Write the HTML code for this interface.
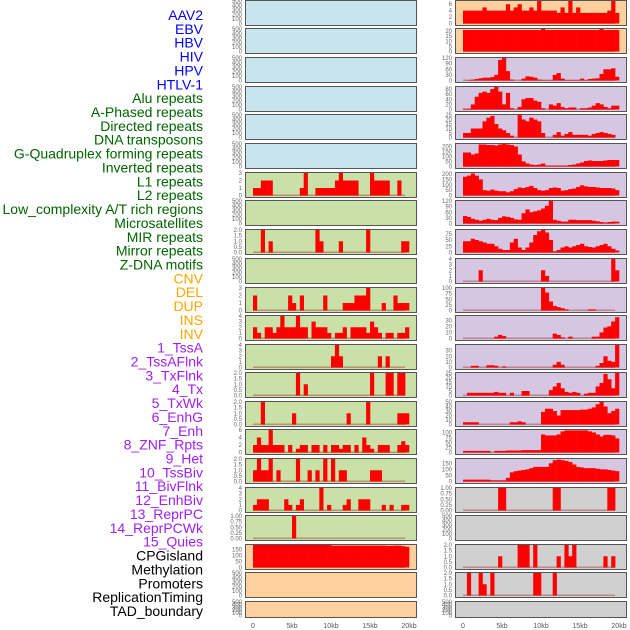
<!DOCTYPE html>
<html><head><meta charset="utf-8"><style>
body{margin:0;background:#fff;width:630px;height:630px;overflow:hidden}
svg{display:block;font-family:"Liberation Sans",sans-serif}
</style></head><body>
<svg id="chart" width="630" height="630"></svg>
<script>
const labels = ["AAV2","EBV","HBV","HIV","HPV","HTLV-1","Alu repeats","A-Phased repeats","Directed repeats","DNA transposons","G-Quadruplex forming repeats","Inverted repeats","L1 repeats","L2 repeats","Low_complexity A/T rich regions","Microsatellites","MIR repeats","Mirror repeats","Z-DNA motifs","CNV","DEL","DUP","INS","INV","1_TssA","2_TssAFlnk","3_TxFlnk","4_Tx","5_TxWk","6_EnhG","7_Enh","8_ZNF_Rpts","9_Het","10_TssBiv","11_BivFlnk","12_EnhBiv","13_ReprPC","14_ReprPCWk","15_Quies","CPGisland","Methylation","Promoters","ReplicationTiming","TAD_boundary"];
const labelColors = ["#0000ff","#0000ff","#0000ff","#0000ff","#0000ff","#0000ff","#006400","#006400","#006400","#006400","#006400","#006400","#006400","#006400","#006400","#006400","#006400","#006400","#006400","#ffa500","#ffa500","#ffa500","#ffa500","#ffa500","#a020f0","#a020f0","#a020f0","#a020f0","#a020f0","#a020f0","#a020f0","#a020f0","#a020f0","#a020f0","#a020f0","#a020f0","#a020f0","#a020f0","#a020f0","#000","#000","#000","#000","#000"];
const xTickKb = [0,5,10,15,20];
const xTickLabels = ["0","5kb","10kb","15kb","20kb"];
const E = new Array(40).fill(0);
const T500 = [0,100,200,300,400,500];
// left column
const L07 = [1,1,2,2,2,0,0,0,0,0,0,0,1,3,0,0,1,1,1,1,1,2,3,2,2,2,2,0,0,0,3,2,2,2,2,0,0,2,0,0];
const L09 = [0,0,2,0,1,0,0,0,0,0,0,0,0,0,0,0,2,1,0,0,0,0,1,0,0,0,0,0,0,2,0,0,0,0,0,0,0,0,1,1];
const L11 = [2,0,0,0,0,0,0,0,0,2,1,0,2,0,0,0,0,0,2,0,0,0,0,1,1,1,2,2,2,3,0,0,0,1,0,0,2,1,1,1];
const L12 = [2,1,0,2,2,1,2,4,2,2,2,4,2,2,0,3,2,2,2,1,0,1,1,2,0,2,2,2,2,1,3,2,1,0,1,1,0,1,1,2];
const L13 = [0,0,0,0,0,0,0,0,0,0,0,0,0,0,0,0,0,0,0,0,2,4,2,0,0,0,0,0,0,0,0,0,2,0,2,0,0,0,0,0];
const L14 = [0,0,0,0,0,0,0,0,0,0,0,2,0,1,0,0,0,0,0,0,0,0,0,0,0,0,0,0,0,0,2,0,0,0,2,2,0,2,2,0];
const L15 = [0,0,2,0,0,0,0,0,0,0,1,0,0,0,0,0,0,0,0,0,0,0,0,0,1,0,0,0,0,2,0,0,0,0,0,0,0,1,1,1];
const L16 = [2,4,2,2,6,2,2,2,0,2,0,1,2,2,0,2,2,0,2,0,2,2,1,2,2,0,2,0,4,2,1,0,2,2,2,0,0,2,3,2];
const L17 = [1,2,1,1,2,0,1,0,0,0,0,2,0,0,1,0,1,0,2,0,2,0,1,1,0,0,0,0,0,0,1,1,1,0,0,0,0,0,0,0];
const L18 = [1,2,2,2,0,0,0,0,2,1,0,1,2,0,0,0,0,4,0,1,0,0,0,1,2,0,0,2,2,2,0,0,0,1,0,1,0,0,1,1];
const L19 = [0,0,0,0,0,0,0,0,0,0,1,0,0,0,0,0,0,0,0,0,0,0,0,0,0,0,0,0,0,0,0,0,0,0,0,0,0,0,0,0];
const L20 = [185,185,185,185,185,185,185,185,185,185,185,185,185,185,185,185,185,185,185,185,180,180,180,180,180,180,180,180,180,180,180,180,180,180,178,178,180,180,175,170];
// right column
const R01 = [4,4,4,4,4,5,4,4,4,4,4,6,4,5,6,4,4,5,4,7,4,4,4,4,3.3,5,3.3,7,3.3,5,3.3,3.3,3.3,3.3,3.3,3.3,3.3,4,7,3.3];
const R02 = [21,21,21,21,21,21,21,21,21,21,21,21,21,21,21,21,21,21,21,21,22,21,21,21,21,21,21,21,21,21,21,21,21,21,21,22,21,21,21,21];
const R03 = [0,2,5,8,12,15,15,18,30,110,120,50,5,0,0,10,22,20,15,5,2,2,2,30,40,10,2,2,2,2,10,2,8,10,12,35,60,60,65,20];
const R04 = [3,3,20,50,65,70,65,80,88,70,20,65,5,0,10,40,45,45,35,30,5,0,20,15,25,10,5,8,8,0,5,5,8,15,25,20,10,5,15,15];
const R05 = [5,5,10,10,10,18,22,24,15,10,8,5,2,0,25,20,18,22,20,18,5,0,0,3,6,2,4,6,3,3,3,3,2,4,5,6,5,4,3,0];
const R06 = [140,140,120,130,220,220,215,215,210,220,225,220,215,200,120,50,30,20,15,20,30,10,10,10,10,10,10,15,20,30,40,55,60,55,55,55,60,65,65,65];
const R07 = [175,185,205,185,150,50,45,55,45,40,40,30,40,60,75,70,80,90,70,50,45,50,70,75,70,45,50,60,65,80,95,85,80,80,75,70,70,70,65,50];
const R08 = [40,35,25,20,15,20,25,20,18,30,38,35,30,22,20,55,75,60,65,70,80,95,120,20,15,10,10,20,20,18,18,18,18,15,12,8,5,8,10,10];
const R09 = [45,45,55,50,45,40,35,35,25,15,10,10,40,55,20,10,20,40,70,85,90,80,50,5,10,20,25,20,25,30,35,25,22,20,25,30,35,25,15,8];
const R10 = [0,0,0,0,2,0,0,0,0,0,0,0,0,0,0,0,0,0,0,0,2,1,0,0,0,0,0,0,0,0,0,0,0,0,0,0,0,0,4,2];
const R11 = [0,0,0,0,0,0,0,0,0,0,0,0,0,0,0,0,0,0,0,0,100,80,40,20,15,10,5,0,0,0,0,0,5,5,0,0,0,0,0,0];
const R12 = [0,0,0,0,0,0,0,0,3,6,4,0,0,0,0,0,0,0,0,0,0,0,0,8,6,2,0,3,0,0,0,0,0,3,3,10,18,20,28,35];
const R13 = [0,0,3,3,0,0,4,4,3,0,2,0,0,0,0,0,0,0,0,0,0,0,0,5,10,5,0,0,0,0,0,0,0,0,3,8,20,12,10,40];
const R14 = [0,3,3,3,3,3,3,3,4,3,3,0,3,0,0,5,5,0,0,0,0,0,6,10,14,8,4,3,4,3,0,2,3,3,10,14,24,18,8,25];
const R15 = [5,5,5,5,0,0,0,0,0,0,0,0,5,5,7,5,0,0,0,0,28,35,35,30,20,32,32,32,32,32,33,33,35,38,45,50,40,25,30,35];
const R16 = [8,8,8,8,8,8,8,0,8,8,8,10,10,10,10,12,12,12,12,12,90,85,85,85,90,105,110,110,110,110,110,110,105,100,90,80,88,88,85,70];
const R17 = [15,15,15,15,15,15,15,10,10,10,10,30,75,85,90,95,100,110,120,120,120,120,150,175,180,175,170,160,140,120,115,110,110,110,105,100,100,95,90,85];
const R18 = [0,0,0,0,0,0,0,0,0,1,1,0,0,0,0,0,0,0,0,0,0,0,0,1,1,0,0,0,0,0,0,0,0,0,0,0,0,1,1,0];
const R20 = [0,0,0,0,0,0,0,0,0,1,0,0,0,0,2,2,2,0,2,0,0,0,0,0,1,0,2,1,2,0,0,0,0,0,0,0,1,0,1,0];
const R21 = [0,2,0,0,2,1,0,2,0,0,0,0,0,0,0,0,0,0,2,2,0,0,0,2,0,0,0,0,0,0,0,0,0,0,0,0,0,0,0,0];

const BLUE="#c8e4ec",GREEN="#c9e1a6",ORANGE="#fed09e",PURPLE="#d5c7e2",GREY="#d0d0d0";
const panels = [
 ["L",0,BLUE,E,500,T500],["L",1,BLUE,E,500,T500],["L",2,BLUE,E,500,T500],["L",3,BLUE,E,500,T500],["L",4,BLUE,E,500,T500],["L",5,BLUE,E,500,T500],
 ["L",6,GREEN,L07,3,[0,1,2,3]],["L",7,GREEN,E,500,T500],["L",8,GREEN,L09,2,[0,0.5,1,1.5,2]],["L",9,GREEN,E,500,T500],
 ["L",10,GREEN,L11,3,[0,1,2,3]],["L",11,GREEN,L12,4,[0,1,2,3,4]],["L",12,GREEN,L13,4,[0,1,2,3,4]],["L",13,GREEN,L14,2,[0,0.5,1,1.5,2]],
 ["L",14,GREEN,L15,2,[0,0.5,1,1.5,2]],["L",15,GREEN,L16,6,[0,2,4,6]],["L",16,GREEN,L17,2,[0,0.5,1,1.5,2]],["L",17,GREEN,L18,4,[0,1,2,3,4]],
 ["L",18,GREEN,L19,1,[0,0.25,0.5,0.75,1]],["L",19,ORANGE,L20,185,[0,50,100,150]],["L",20,ORANGE,E,500,T500],["L",21,ORANGE,E,500,T500],
 ["R",0,ORANGE,R01,7,[0,2,4,6]],["R",1,ORANGE,R02,22,[0,5,10,15,20]],["R",2,PURPLE,R03,120,[0,30,60,90,120]],["R",3,PURPLE,R04,88,[0,20,40,60,80]],
 ["R",4,PURPLE,R05,25,[0,5,10,15,20,25]],["R",5,PURPLE,R06,225,[0,50,100,150,200]],["R",6,PURPLE,R07,210,[0,50,100,150,200]],["R",7,PURPLE,R08,120,[0,30,60,90,120]],
 ["R",8,PURPLE,R09,90,[0,25,50,75]],["R",9,PURPLE,R10,4,[0,1,2,3,4]],["R",10,PURPLE,R11,100,[0,25,50,75,100]],["R",11,PURPLE,R12,37,[0,10,20,30]],
 ["R",12,PURPLE,R13,40,[0,10,20,30]],["R",13,PURPLE,R14,25,[0,5,10,15,20,25]],["R",14,PURPLE,R15,50,[0,10,20,30,40,50]],["R",15,PURPLE,R16,112,[0,25,50,75,100]],
 ["R",16,PURPLE,R17,185,[0,50,100,150]],["R",17,GREY,R18,1,[0,0.25,0.5,0.75,1]],["R",18,GREY,E,500,T500],["R",19,GREY,R20,2,[0,0.5,1,1.5,2]],
 ["R",20,GREY,R21,2,[0,0.5,1,1.5,2]],["R",21,GREY,E,500,T500]
];
const NS="http://www.w3.org/2000/svg";
const svg=document.getElementById("chart");
function mk(tag,attrs,parent){const e=document.createElementNS(NS,tag);for(const k in attrs)e.setAttribute(k,attrs[k]);(parent||svg).appendChild(e);return e;}
const rowTops=[0,28,57,86,114,143,172,200,229,258,287,315,344,372,401,429,458,487,515,544,572,601];
const colX={L:245,R:455};const PW=171;
function xScale(col,kb){return colX[col]+8+kb*7.8;}
function fmt(v,ticks){const dec=ticks.some(t=>t%1!==0);if(!dec)return String(v);return ticks.some(t=>(t*100)%10!==0)?v.toFixed(2):v.toFixed(1);}
panels.forEach(p=>{
 const [col,row,bg,vals,ymax,ticks]=p;
 const top=rowTops[row],h=row===21?16:25,x0=colX[col];
 const g=mk("g",{});
 
 
 mk("rect",{x:x0+0.5,y:top+0.5,width:PW,height:h,fill:bg,stroke:"#555","stroke-width":1},g);
 const base=top+h-1.5,span=h-2.5;
 const ys=v=>base-v/ymax*span;
 if(vals.some(v=>v>0)) mk("rect",{x:xScale(col,0),y:base-1,width:xScale(col,19.5)-xScale(col,0),height:1.5,fill:"#b04040",opacity:0.5},g);
 const bw=xScale(col,0.5)-xScale(col,0);
 vals.forEach((v,i)=>{if(v<=0)return;
  const r=mk("rect",{x:xScale(col,i*0.5),y:ys(v),width:bw+0.3,height:base-ys(v),fill:"#ff0000"},g);
  
  
 });
 ticks.forEach(t=>{
  const tx=mk("text",{x:x0-3,y:ys(t)+2,"font-size":6,fill:"#666","text-anchor":"end"},g);
  tx.textContent=fmt(t,ticks);
  
  
 });
});
["L","R"].forEach(col=>{xTickKb.forEach((k,i)=>{
 const t=mk("text",{x:xScale(col,k),y:628,"font-size":7,fill:"#555","text-anchor":"middle"});
 t.textContent=xTickLabels[i];
 
 
});});
labels.forEach((l,i)=>{
 const t=mk("text",{x:203,y:20+i*13.86,"font-size":14,fill:labelColors[i],"text-anchor":"end"});
 t.textContent=l;
 
 
});
</script>
</body></html>
